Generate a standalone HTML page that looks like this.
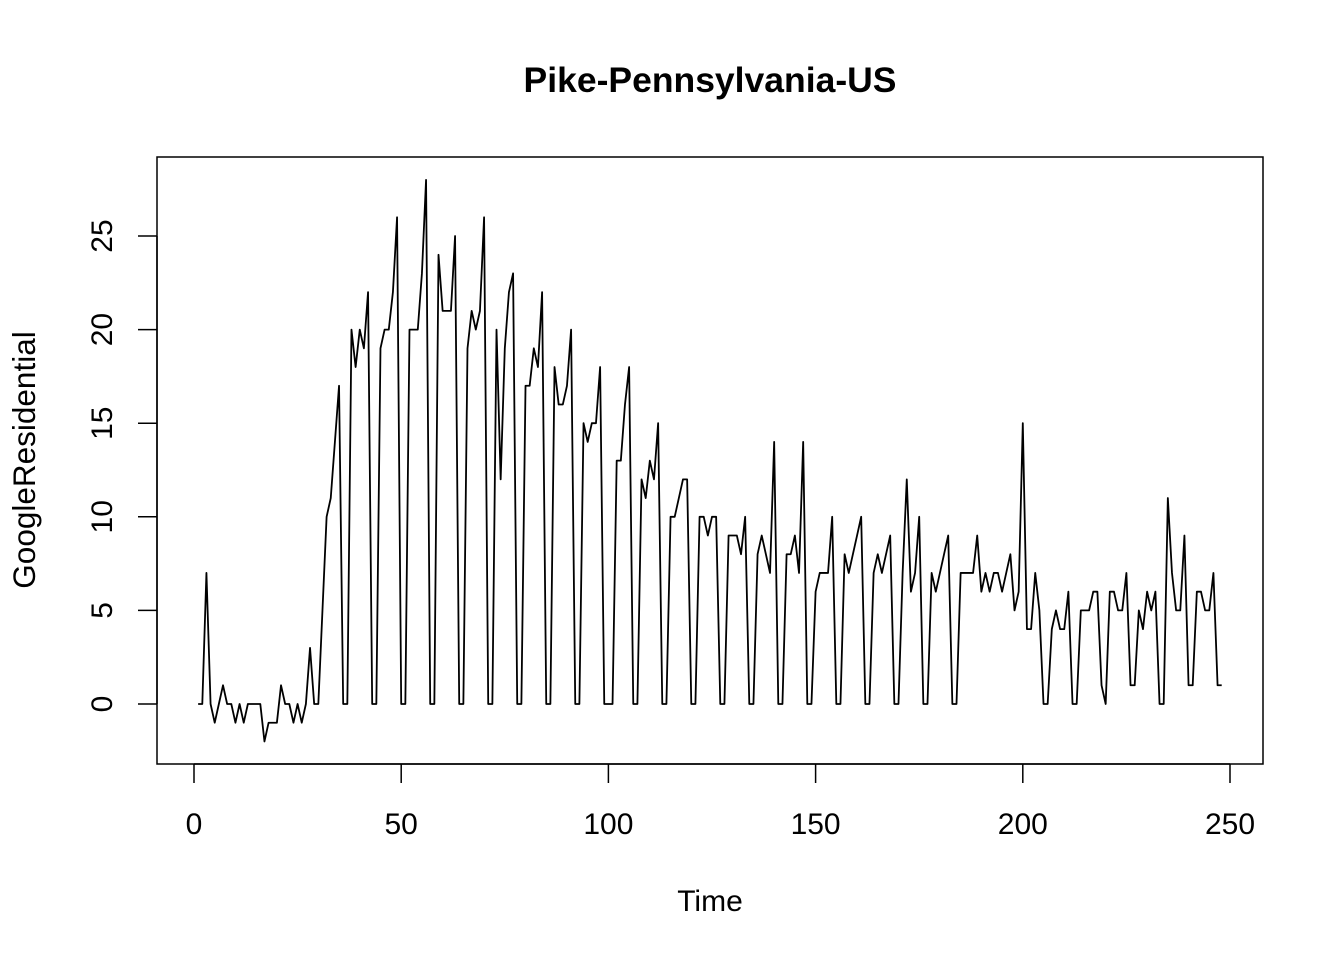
<!DOCTYPE html>
<html><head><meta charset="utf-8"><style>
body{margin:0;background:#fff;}
svg{display:block;font-family:"Liberation Sans",Arial,sans-serif;}
</style></head><body>
<svg id="chart" width="1344" height="960">
<rect width="1344" height="960" fill="#fff"/>
<text x="710" y="92" text-anchor="middle" font-size="35.5" font-weight="bold">Pike-Pennsylvania-US</text>
<rect x="157" y="157" width="1106" height="607" fill="none" stroke="#000" stroke-width="1.5"/>
<g id="xaxis"></g>
<g id="yaxis"></g>
<text x="710" y="911" text-anchor="middle" font-size="30">Time</text>
<text transform="translate(35,460) rotate(-90)" text-anchor="middle" font-size="31.5">GoogleResidential</text>
<polyline id="series" fill="none" stroke="#000" stroke-width="1.8" stroke-linejoin="round"/>
</svg>
<script>
const startTime = 1;
const values = [0,0,7,0,-1,0,1,0,0,-1,0,-1,0,0,0,0,-2,-1,-1,-1,1,0,0,-1,0,-1,0,3,0,0,5,10,11,14,17,0,0,20,18,20,19,22,0,0,19,20,20,22,26,0,0,20,20,20,23,28,0,0,24,21,21,21,25,0,0,19,21,20,21,26,0,0,20,12,19,22,23,0,0,17,17,19,18,22,0,0,18,16,16,17,20,0,0,15,14,15,15,18,0,0,0,13,13,16,18,0,0,12,11,13,12,15,0,0,10,10,11,12,12,0,0,10,10,9,10,10,0,0,9,9,9,8,10,0,0,8,9,8,7,14,0,0,8,8,9,7,14,0,0,6,7,7,7,10,0,0,8,7,8,9,10,0,0,7,8,7,8,9,0,0,7,12,6,7,10,0,0,7,6,7,8,9,0,0,7,7,7,7,9,6,7,6,7,7,6,7,8,5,6,15,4,4,7,5,0,0,4,5,4,4,6,0,0,5,5,5,6,6,1,0,6,6,5,5,7,1,1,5,4,6,5,6,0,0,11,7,5,5,9,1,1,6,6,5,5,7,1,1];
const xTicks = [0,50,100,150,200,250];
const yTicks = [0,5,10,15,20,25];
const xs = t => 194 + t*(1230-194)/250;
const ys = v => 704 - v*(704-236)/25;
const NS = "http://www.w3.org/2000/svg";
const pts = values.map((v,i)=>xs(startTime+i).toFixed(2)+","+ys(v).toFixed(2)).join(" ");
document.getElementById("series").setAttribute("points", pts);
const xa = document.getElementById("xaxis");
const xl = document.createElementNS(NS,"line");
xl.setAttribute("x1",xs(xTicks[0]));xl.setAttribute("x2",xs(xTicks[xTicks.length-1]));
xl.setAttribute("y1",764);xl.setAttribute("y2",764);xl.setAttribute("stroke","#000");xl.setAttribute("stroke-width","1.5");


xa.appendChild(xl);
xTicks.forEach(t=>{
  const l=document.createElementNS(NS,"line");
  l.setAttribute("x1",xs(t));l.setAttribute("x2",xs(t));l.setAttribute("y1",764);l.setAttribute("y2",783);
  l.setAttribute("stroke","#000");l.setAttribute("stroke-width","1.5");
  
  
  xa.appendChild(l);
  const tx=document.createElementNS(NS,"text");
  tx.setAttribute("x",xs(t));tx.setAttribute("y",834);tx.setAttribute("text-anchor","middle");tx.setAttribute("font-size","30");
  tx.textContent=t;
  
  
  xa.appendChild(tx);
});
const ya = document.getElementById("yaxis");
const yl = document.createElementNS(NS,"line");
yl.setAttribute("x1",157);yl.setAttribute("x2",157);
yl.setAttribute("y1",ys(yTicks[0]));yl.setAttribute("y2",ys(yTicks[yTicks.length-1]));yl.setAttribute("stroke","#000");yl.setAttribute("stroke-width","1.5");


ya.appendChild(yl);
yTicks.forEach(v=>{
  const l=document.createElementNS(NS,"line");
  l.setAttribute("x1",138);l.setAttribute("x2",157);l.setAttribute("y1",ys(v));l.setAttribute("y2",ys(v));
  l.setAttribute("stroke","#000");l.setAttribute("stroke-width","1.5");
  
  
  ya.appendChild(l);
  const tx=document.createElementNS(NS,"text");
  tx.setAttribute("transform","translate(112,"+ys(v)+") rotate(-90)");
  tx.setAttribute("text-anchor","middle");tx.setAttribute("font-size","30");
  tx.textContent=v;
  
  
  ya.appendChild(tx);
});
</script>
</body></html>
